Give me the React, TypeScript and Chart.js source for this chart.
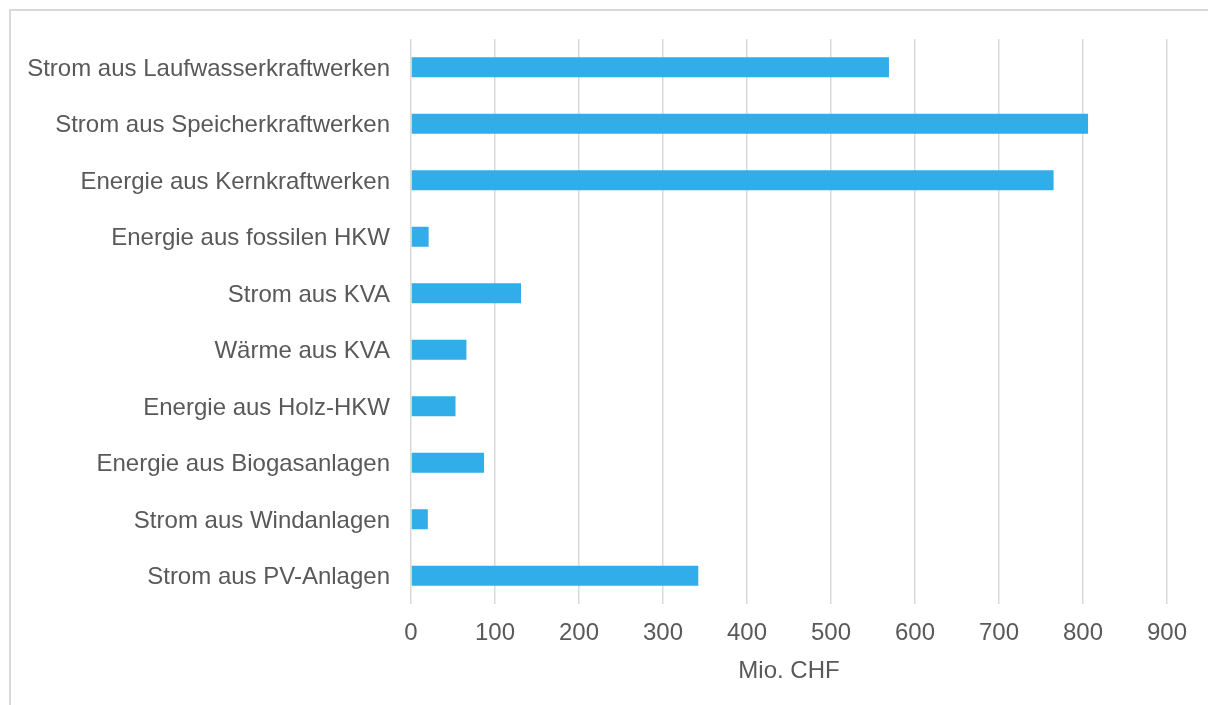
import React, { useEffect, useRef } from "react";
import { Chart, registerables } from "chart.js";

Chart.register(...registerables);

const categories = [
  "Strom aus Laufwasserkraftwerken",
  "Strom aus Speicherkraftwerken",
  "Energie aus Kernkraftwerken",
  "Energie aus fossilen HKW",
  "Strom aus KVA",
  "Wärme aus KVA",
  "Energie aus Holz-HKW",
  "Energie aus Biogasanlagen",
  "Strom aus Windanlagen",
  "Strom aus PV-Anlagen",
];
const values = [569, 806, 765, 21, 131, 66, 53, 87, 20, 342];
const xMin = 0;
const xMax = 900;
const xStep = 100;
const axisTitle = "Mio. CHF";

const W = 1208;
const H = 705;

export default function App() {
  const ref = useRef<HTMLCanvasElement | null>(null);
  useEffect(() => {
    if (!ref.current) return;
    const font = { family: "'Liberation Sans', Arial, sans-serif", size: 24 };
    const chart = new Chart(ref.current, {
      type: "bar",
      data: {
        labels: categories,
        datasets: [
          {
            data: values,
            backgroundColor: "#31ADEA",
            borderWidth: 0,
            categoryPercentage: 1,
            barPercentage: 0.354,
          },
        ],
      },
      options: {
        indexAxis: "y",
        animation: false,
        responsive: false,
        maintainAspectRatio: false,
        layout: { padding: { top: 39, right: 41, bottom: 0, left: 0 } },
        plugins: { legend: { display: false }, tooltip: { enabled: false } },
        scales: {
          x: {
            min: xMin,
            max: xMax,
            ticks: { stepSize: xStep, color: "#595959", font, padding: 15 },
            grid: { color: "#d9d9d9", lineWidth: 1.5, drawTicks: false },
            border: { display: false },
            title: {
              display: true,
              text: axisTitle,
              color: "#595959",
              font,
              padding: { top: 0, bottom: 19 },
            },
            afterFit: (s: any) => {
              s.height = 101;
            },
          },
          y: {
            ticks: { color: "#595959", font, padding: 21, labelOffset: 2 },
            grid: { display: false, drawTicks: false },
            border: { display: false },
            afterFit: (s: any) => {
              s.width = 411;
            },
          },
        },
      },
    });
    return () => chart.destroy();
  }, []);
  return (
    <div
      style={{
        position: "fixed",
        left: 0,
        top: 0,
        width: W,
        height: H,
        overflow: "hidden",
        background: "#fff",
      }}
    >
      <div
        style={{
          position: "absolute",
          left: 9,
          top: 9,
          width: W + 100,
          height: H + 100,
          borderLeft: "2px solid #d9d9d9",
          borderTop: "2px solid #d9d9d9",
        }}
      />
      <canvas
        ref={ref}
        width={W}
        height={H}
        style={{ position: "absolute", left: 0, top: 0, width: W, height: H }}
      />
    </div>
  );
}
